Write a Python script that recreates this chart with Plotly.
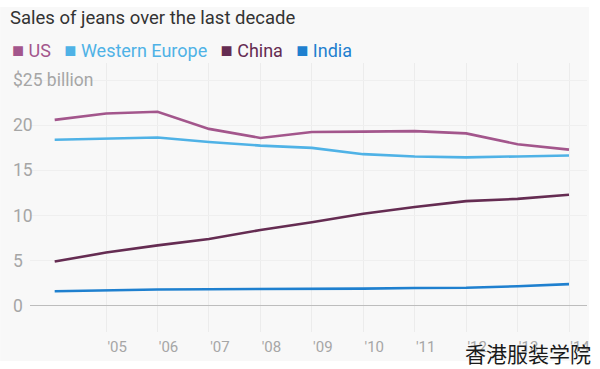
import plotly.graph_objects as go

years = [2004, 2005, 2006, 2007, 2008, 2009, 2010, 2011, 2012, 2013, 2014]
us = [20.6, 21.3, 21.5, 19.6, 18.6, 19.25, 19.3, 19.35, 19.1, 17.9, 17.3]
western_europe = [18.4, 18.55, 18.65, 18.15, 17.75, 17.5, 16.8, 16.55, 16.45, 16.55, 16.65]
china = [4.9, 5.9, 6.7, 7.4, 8.4, 9.25, 10.2, 10.95, 11.6, 11.85, 12.3]
india = [1.62, 1.73, 1.8, 1.84, 1.84, 1.84, 1.9, 1.97, 2.0, 2.17, 2.4]

series_names = ["US", "Western Europe", "China", "India"]
series_values = [us, western_europe, china, india]
series_colors = ["#a3568c", "#4fb2e6", "#652c52", "#1f80cf"]

x_tick_vals = [2005, 2006, 2007, 2008, 2009, 2010, 2011, 2012, 2013, 2014]
x_tick_text = ["'05", "'06", "'07", "'08", "'09", "'10", "'11", "'12", "'13", "'14"]
y_tick_vals = [0, 5, 10, 15, 20, 25]
y_tick_text = ["0", "5", "10", "15", "20", "$25 billion"]

title_text = "Sales of jeans over the last decade"
watermark = "香港服装学院"

FONT = "Roboto, 'Noto Sans', sans-serif"

fig = go.Figure()
for name, vals, col in zip(series_names, series_values, series_colors):
    fig.add_trace(go.Scatter(x=years, y=vals, mode="lines", name=name,
                             line=dict(color=col, width=2.6), showlegend=False))

# plot area: x 30..590, y 63..332 in a 600x369 canvas
L, R, T, B = 30, 10, 63, 37
W = 600 - L - R
H = 369 - T - B

def px_x(px):
    return (px - L) / W

def px_y(py):
    return (369 - B - py) / H

shapes = [dict(type="rect", xref="paper", yref="paper",
               x0=px_x(0), x1=px_x(592), y0=px_y(361), y1=px_y(7),
               fillcolor="#f8f8f8", line=dict(width=0), layer="below")]

annotations = []
for v, t in zip(y_tick_vals, y_tick_text):
    annotations.append(dict(x=px_x(11), xref="paper", y=v, yref="y", text=t,
                            showarrow=False, xanchor="left", yanchor="middle",
                            font=dict(family=FONT, size=17.5, color="#a6a6a6")))

legend_parts = []
for name, col in zip(series_names, series_colors):
    legend_parts.append(
        f"<span style='color:{col}'><span style='font-size:20px'>■</span> {name}</span>")
annotations.append(dict(x=px_x(10), xref="paper", y=px_y(50), yref="paper",
                        text="   ".join(legend_parts), showarrow=False,
                        xanchor="left", yanchor="middle",
                        font=dict(family=FONT, size=18, color="#333")))

annotations.append(dict(x=px_x(596), xref="paper", y=px_y(353), yref="paper",
                        text=watermark, showarrow=False, xanchor="right",
                        yanchor="middle",
                        font=dict(family="Noto Sans CJK SC", size=21, color="#1a1a1a")))

fig.update_layout(
    width=600, height=369,
    margin=dict(l=L, r=R, t=T, b=B),
    paper_bgcolor="white",
    plot_bgcolor="rgba(0,0,0,0)",
    title=dict(text=title_text, x=10 / 600, xref="container", xanchor="left",
               y=1 - 18 / 369, yref="container", yanchor="middle",
               font=dict(family=FONT, size=18.5, color="#333333")),
    shapes=shapes,
    annotations=annotations,
    xaxis=dict(range=[2003.52, 2014.35], tickmode="array", tickvals=x_tick_vals,
               ticktext=x_tick_text, showgrid=True, gridcolor="#ececec", gridwidth=1,
               zeroline=False, showline=False, ticks="",
               ticklabelshift=11, ticklabelstandoff=4,
               tickfont=dict(family=FONT, size=15, color="#a6a6a6")),
    yaxis=dict(range=[-2.9, 26.9], tickmode="array", tickvals=y_tick_vals,
               showticklabels=False, showgrid=True, gridcolor="#efefef", gridwidth=1,
               zeroline=True, zerolinecolor="#bdbdbd", zerolinewidth=1,
               showline=False, ticks=""),
)

fig.write_html("out.html", config={"displayModeBar": False},
               post_script="document.body.style.margin='0px';document.body.style.overflow='hidden';")
